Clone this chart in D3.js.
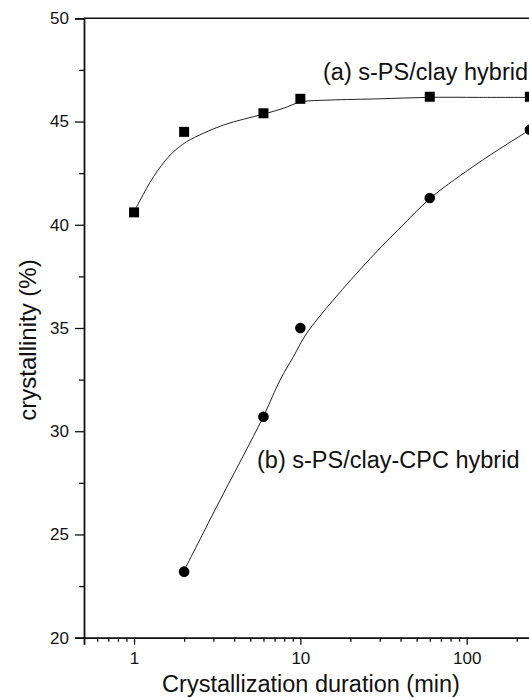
<!DOCTYPE html>
<html>
<head>
<meta charset="utf-8">
<script src="https://cdn.jsdelivr.net/npm/d3@7"></script>
<style>
  html, body { margin: 0; padding: 0; background: #fff; }
  svg { display: block; }
  text { font-family: "Liberation Sans", Arial, sans-serif; fill: #111; }
</style>
</head>
<body>
<svg id="chart" width="529" height="698"></svg>
<script>
// ---- data ----
const timesA = [1, 2, 6, 10, 60, 240];            // min
const crystA = [40.6, 44.5, 45.4, 46.1, 46.2, 46.2]; // (a) s-PS/clay hybrid, %
const timesB = [2, 6, 10, 60, 240];
const crystB = [23.2, 30.7, 35.0, 41.3, 44.6];     // (b) s-PS/clay-CPC hybrid, %

// fitted guide curves
const fitA_t = [1.0, 1.09, 1.31, 1.65, 2.07, 2.61, 3.44, 4.54, 6.07, 7.9, 10.1, 15.1, 30, 57.5, 120, 260];
const fitA_y = [40.63, 41.2, 42.33, 43.38, 44.02, 44.43, 44.83, 45.11, 45.37, 45.64, 45.95, 46.04, 46.1, 46.17, 46.17, 46.17];
const fitB_t = [2.0, 3.14, 5.99, 7.55, 9.08, 10.93, 15.8, 26.2, 39.8, 60.8, 120.4, 240];
const fitB_y = [23.25, 26.35, 30.71, 32.48, 33.61, 34.75, 36.36, 38.35, 39.85, 41.3, 43.05, 44.6];

const xMajor = [1, 10, 100];
const xTickLabels = ["1", "10", "100"];
const yMajor = [20, 25, 30, 35, 40, 45, 50];
const yMinor = [22.5, 27.5, 32.5, 37.5, 42.5, 47.5];
const xTitle = "Crystallization duration (min)";
const yTitle = "crystallinity (%)";
const labelA = "(a) s-PS/clay hybrid";
const labelB = "(b) s-PS/clay-CPC hybrid";

// ---- layout ----
const svg = d3.select("#chart");
const x0 = 84, decade = 166.3;
const x = d3.scaleLog().domain([0.5, 1000]).range([x0, x0 + decade * Math.log10(2000)]);
const y = d3.scaleLinear().domain([20, 50]).range([637.7, 18.3]);

const xMinor = [];
[0.1, 1, 10, 100].forEach(d => { for (let k = 2; k <= 9; k++) { const v = d * k; if (v > 0.5 && v < 1000) xMinor.push(v); } });

// frame top line
svg.append("line").attr("x1", x0).attr("x2", 529).attr("y1", y(50)).attr("y2", y(50))
  .attr("stroke", "#111").attr("stroke-width", 1.6);

// y axis
const yAxisG = svg.append("g").attr("transform", `translate(${x0},0)`);
yAxisG.call(d3.axisLeft(y).tickValues(yMajor).tickSize(9).tickPadding(6).tickFormat(d3.format("d")));
yAxisG.append("g").call(d3.axisLeft(y).tickValues(yMinor).tickSize(5).tickFormat(""));
yAxisG.selectAll(".domain").attr("stroke", "#111").attr("stroke-width", 1.8);
yAxisG.selectAll(".tick line").attr("stroke", "#111").attr("stroke-width", 1.3);
yAxisG.selectAll("g > g .domain").remove();
yAxisG.selectAll(".tick text").style("font-size", "17px").style("font-family", "Liberation Sans, Arial, sans-serif").attr("fill", "#111");

// x axis
const xAxisG = svg.append("g").attr("transform", `translate(0,${y(20)})`);
xAxisG.call(d3.axisBottom(x).tickValues(xMajor).tickSize(7).tickPadding(7).tickFormat((d, i) => xTickLabels[i]));
xAxisG.append("g").call(d3.axisBottom(x).tickValues(xMinor).tickSize(4).tickFormat(""));
xAxisG.selectAll(".domain").attr("stroke", "#111").attr("stroke-width", 1.8);
xAxisG.selectAll("g > g .domain").remove();
xAxisG.selectAll(".tick line").attr("stroke", "#111").attr("stroke-width", 1.3);
xAxisG.selectAll(".tick text").style("font-size", "17px").style("font-family", "Liberation Sans, Arial, sans-serif").attr("fill", "#111");

// fitted curves
const line = d3.line().x(d => x(d[0])).y(d => y(d[1])).curve(d3.curveCatmullRom.alpha(0.5));
svg.append("path").datum(fitA_t.map((t, i) => [t, fitA_y[i]])).attr("d", line)
  .attr("fill", "none").attr("stroke", "#222").attr("stroke-width", 1);
svg.append("path").datum(fitB_t.map((t, i) => [t, fitB_y[i]])).attr("d", line)
  .attr("fill", "none").attr("stroke", "#222").attr("stroke-width", 1);

// markers
svg.append("g").selectAll("rect").data(timesA.map((t, i) => [t, crystA[i]])).join("rect")
  .attr("x", d => x(d[0]) - 5).attr("y", d => y(d[1]) - 5).attr("width", 10).attr("height", 10).attr("fill", "#000");
svg.append("g").selectAll("circle").data(timesB.map((t, i) => [t, crystB[i]])).join("circle")
  .attr("cx", d => x(d[0])).attr("cy", d => y(d[1])).attr("r", 5.3).attr("fill", "#000");

// annotations
svg.append("text").attr("x", 323).attr("y", 80).style("font-size", "23.5px").text(labelA);
svg.append("text").attr("x", 257).attr("y", 468).style("font-size", "23.5px").text(labelB);

// axis titles
svg.append("text").attr("x", 311).attr("y", 692).attr("text-anchor", "middle").style("font-size", "23.5px").text(xTitle);
svg.append("text").attr("transform", "translate(36,340) rotate(-90)").attr("text-anchor", "middle").style("font-size", "24px").text(yTitle);
</script>
</body>
</html>
